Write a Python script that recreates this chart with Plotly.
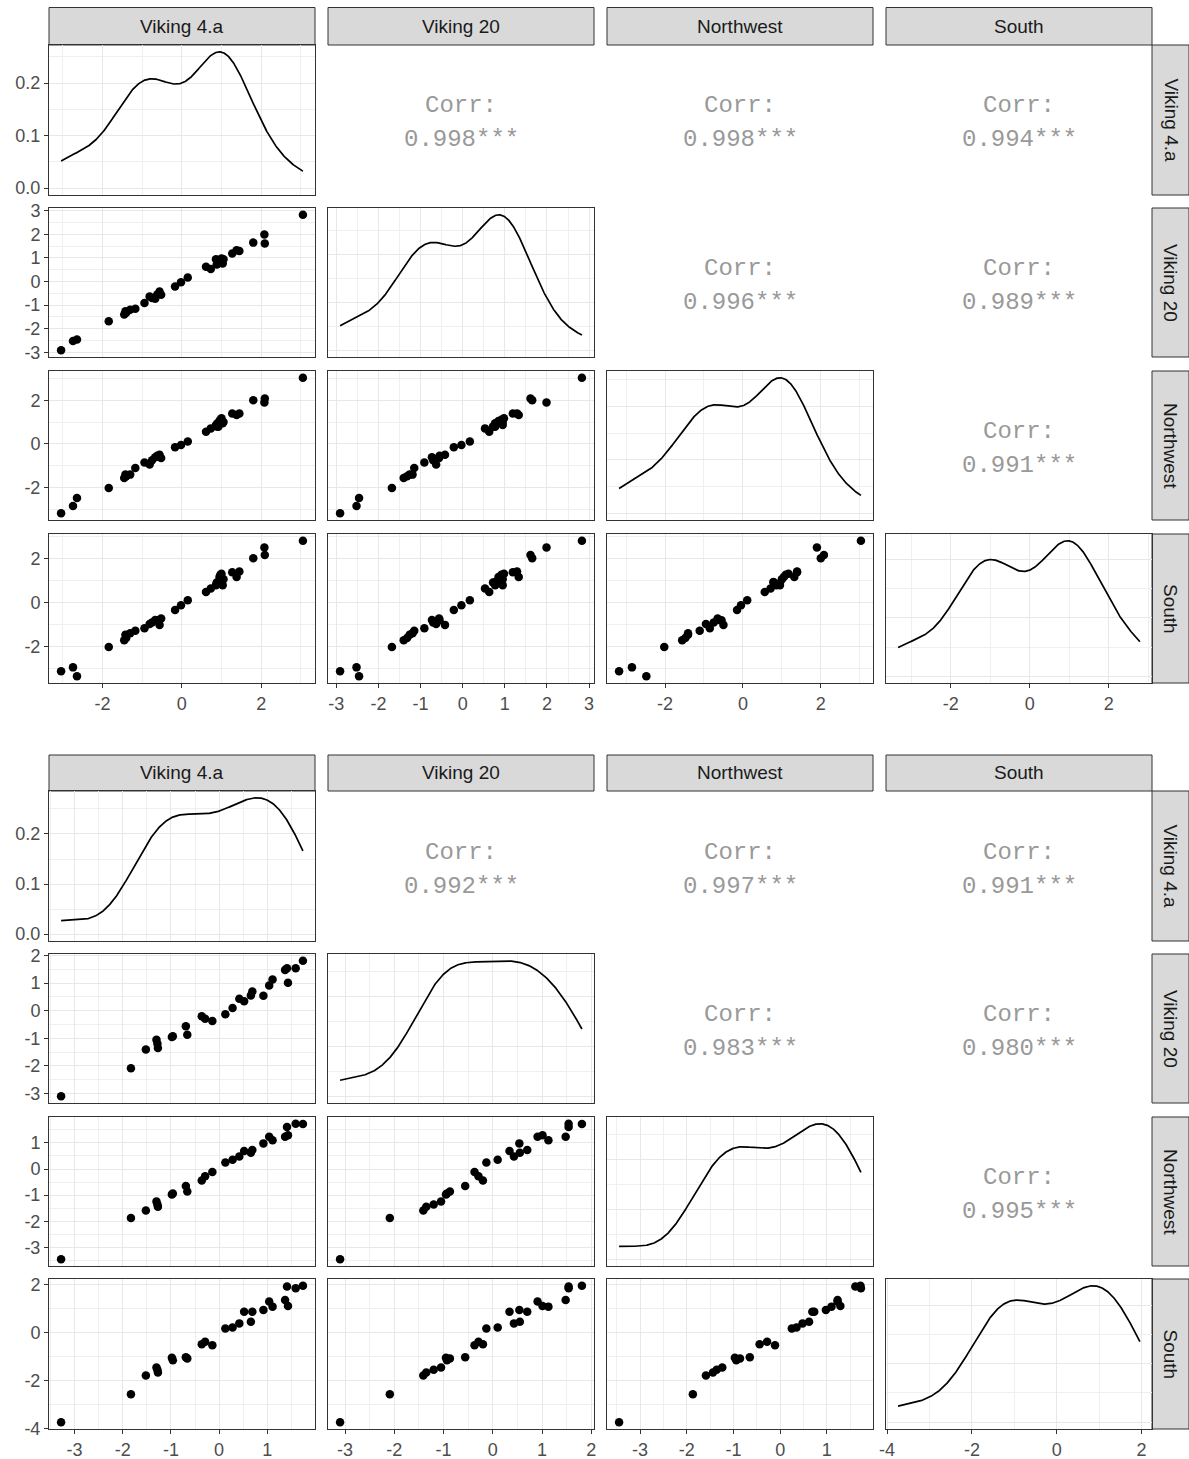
import numpy as np
import plotly.graph_objects as go

# ---------------------------------------------------------------------------
# Data: standardised anomalies for four regions, two periods
# ---------------------------------------------------------------------------
variables = ["Viking 4.a", "Viking 20", "Northwest", "South"]

top_viking4a = [-3.04, -2.74, -2.64, -1.84, -1.45, -1.42, -1.40, -1.30, -1.17, -0.94,
                -0.81, -0.75, -0.67, -0.62, -0.56, -0.52, -0.17, -0.02, 0.15, 0.61,
                0.73, 0.86, 0.88, 0.90, 0.92, 0.95, 0.97, 1.00, 1.03, 1.05,
                1.27, 1.38, 1.45, 1.80, 2.08, 2.09, 3.05]
top_viking20 = [-2.91, -2.52, -2.46, -1.68, -1.40, -1.26, -1.32, -1.19, -1.15, -0.91,
                -0.63, -0.70, -0.73, -0.55, -0.42, -0.56, -0.21, -0.03, 0.17, 0.63,
                0.53, 0.95, 0.72, 0.80, 0.77, 0.85, 0.92, 0.98, 0.77, 0.95,
                1.19, 1.33, 1.29, 1.65, 1.99, 1.61, 2.83]
top_northwest = [-3.18, -2.85, -2.48, -2.02, -1.56, -1.41, -1.48, -1.41, -1.11, -0.85,
                 -0.95, -0.75, -0.61, -0.55, -0.50, -0.65, -0.15, -0.05, 0.11, 0.56,
                 0.71, 0.86, 0.80, 0.95, 0.78, 1.05, 1.10, 1.17, 0.95, 1.00,
                 1.39, 1.32, 1.39, 2.00, 1.90, 2.08, 3.03]
top_south = [-3.10, -2.93, -3.33, -2.01, -1.70, -1.46, -1.60, -1.39, -1.28, -1.16,
             -0.97, -0.90, -0.79, -0.80, -1.01, -0.72, -0.34, -0.12, 0.10, 0.48,
             0.63, 0.78, 0.90, 0.85, 0.93, 1.15, 1.25, 1.30, 0.78, 1.05,
             1.37, 1.15, 1.40, 2.00, 2.49, 2.15, 2.79]

bottom_viking4a = [-3.28, -1.83, -1.52, -1.30, -1.28, -1.27, -0.98, -0.96, -0.69, -0.66,
                   -0.36, -0.29, -0.14, 0.13, 0.28, 0.42, 0.52, 0.66, 0.69, 0.92,
                   1.04, 1.11, 1.37, 1.43, 1.41, 1.59, 1.74]
bottom_viking20 = [-3.10, -2.09, -1.41, -1.05, -1.20, -1.35, -0.95, -0.93, -0.56, -0.87,
                   -0.20, -0.29, -0.37, -0.13, 0.10, 0.43, 0.34, 0.55, 0.70, 0.54,
                   0.91, 1.13, 1.48, 1.01, 1.54, 1.54, 1.81]
bottom_northwest = [-3.45, -1.87, -1.59, -1.24, -1.36, -1.44, -0.97, -0.94, -0.65, -0.86,
                    -0.44, -0.28, -0.11, 0.25, 0.35, 0.48, 0.69, 0.62, 0.73, 0.98,
                    1.23, 1.10, 1.23, 1.29, 1.61, 1.73, 1.72]
bottom_south = [-3.74, -2.57, -1.79, -1.45, -1.55, -1.66, -1.05, -1.15, -1.03, -1.08,
                -0.48, -0.38, -0.52, 0.18, 0.22, 0.39, 0.88, 0.46, 0.88, 0.95,
                1.30, 1.09, 1.37, 1.12, 1.93, 1.86, 1.96]

# Correlation labels, upper triangle order: (1,2) (1,3) (1,4) (2,3) (2,4) (3,4)
top_corr = ["0.998", "0.998", "0.994", "0.996", "0.989", "0.991"]
bottom_corr = ["0.992", "0.997", "0.991", "0.983", "0.980", "0.995"]

# Axis breaks for each variable
top_ticks = [[-2, 0, 2], [-3, -2, -1, 0, 1, 2, 3], [-2, 0, 2], [-2, 0, 2]]
bottom_ticks = [[-3, -2, -1, 0, 1], [-3, -2, -1, 0, 1, 2], [-3, -2, -1, 0, 1], [-4, -2, 0, 2]]
density_ticks = [0.0, 0.1, 0.2]
density_tick_labels = ["0.0", "0.1", "0.2"]

# ---------------------------------------------------------------------------
# Layout geometry (pixels)
# ---------------------------------------------------------------------------
W, H = 1189, 1459
COLS = [(49, 315), (328, 594), (607, 873), (886, 1152)]
RIGHT_STRIP = (1152, 1189)
BLOCKS = [
    dict(data=[top_viking4a, top_viking20, top_northwest, top_south],
         ticks=top_ticks, corr=top_corr, strip=(7.5, 45),
         rows=[(45, 195), (208, 357), (371, 520), (534, 683)]),
    dict(data=[bottom_viking4a, bottom_viking20, bottom_northwest, bottom_south],
         ticks=bottom_ticks, corr=bottom_corr, strip=(755, 791),
         rows=[(791, 941), (954, 1103), (1117, 1266), (1279, 1429)]),
]

BORDER = "#333333"
GRID_MAJOR = "#E8E8E8"
GRID_MINOR = "#EFEFEF"
TICK_FONT = dict(family="Liberation Sans, Arial, sans-serif", size=18, color="#4D4D4D")
STRIP_FONT = dict(family="Liberation Sans, Arial, sans-serif", size=19, color="#1A1A1A")
CORR_FONT = dict(family="Liberation Mono, Courier New, monospace", size=24, color="#999999")


def px_x(p):
    return p / W


def px_y(p):
    return 1 - p / H


def expand(values, frac=0.05):
    lo, hi = float(np.min(values)), float(np.max(values))
    pad = (hi - lo) * frac
    return [lo - pad, hi + pad]


def kde(values, n=512):
    """Gaussian kernel density with R's nrd0 bandwidth, over the data range."""
    v = np.asarray(values, dtype=float)
    sd = v.std(ddof=1)
    q75, q25 = np.percentile(v, [75, 25])
    bw = 0.9 * min(sd, (q75 - q25) / 1.34) * len(v) ** (-0.2)
    xs = np.linspace(v.min(), v.max(), n)
    dens = np.exp(-0.5 * ((xs[:, None] - v[None, :]) / bw) ** 2).sum(axis=1)
    dens /= len(v) * bw * np.sqrt(2 * np.pi)
    return xs, dens


def axis_style(domain, anchor, rng, ticks, labels, show_labels):
    step = ticks[1] - ticks[0]
    return dict(
        domain=domain, anchor=anchor, range=rng, automargin=False,
        tickmode="array", tickvals=ticks, ticktext=labels,
        showticklabels=show_labels,
        ticks="outside" if show_labels else "", ticklen=4, tickwidth=1, tickcolor=BORDER,
        ticklabelstandoff=0,
        tickfont=TICK_FONT,
        showgrid=True, gridcolor=GRID_MAJOR, gridwidth=1.4,
        minor=dict(tickmode="linear", tick0=ticks[0], dtick=step / 2,
                   showgrid=True, gridcolor=GRID_MINOR, gridwidth=0.9, ticks=""),
        zeroline=False, showline=True, mirror=True, linecolor=BORDER, linewidth=1,
        fixedrange=True,
    )


def label(text, x, y, font, yshift=0, angle=0):
    return dict(text=text, x=x, y=y, xref="paper", yref="paper", yshift=yshift,
                xanchor="center", yanchor="middle", textangle=angle,
                showarrow=False, font=font)


fig = go.Figure()
layout = {}
annotations = []
shapes = []

k = 0
for block in BLOCKS:
    data = block["data"]
    ticks = block["ticks"]
    corr_iter = iter(block["corr"])
    corr_map = {}
    for i in range(4):
        for j in range(i + 1, 4):
            corr_map[(i, j)] = next(corr_iter)

    for r, (ry0, ry1) in enumerate(block["rows"]):
        for c, (cx0, cx1) in enumerate(COLS):
            k += 1
            xname = "xaxis" if k == 1 else f"xaxis{k}"
            yname = "yaxis" if k == 1 else f"yaxis{k}"
            xref = "x" if k == 1 else f"x{k}"
            yref = "y" if k == 1 else f"y{k}"
            xdom = [px_x(cx0), px_x(cx1)]
            ydom = [px_y(ry1), px_y(ry0)]

            xv = data[c]
            xlabels = [str(t) for t in ticks[c]]
            layout[xname] = axis_style(xdom, yref, expand(xv), ticks[c], xlabels, r == 3)

            if r == c:
                xs, dens = kde(xv)
                dmax = float(dens.max())
                yrng = [-0.05 * dmax, 1.05 * dmax]
                layout[yname] = axis_style(ydom, xref, yrng, density_ticks,
                                           density_tick_labels, c == 0)
                fig.add_trace(go.Scatter(x=xs, y=dens, mode="lines",
                                         line=dict(color="black", width=1.7),
                                         xaxis=xref, yaxis=yref, hoverinfo="skip",
                                         showlegend=False))
            else:
                yv = data[r]
                ylabels = [str(t) for t in ticks[r]]
                layout[yname] = axis_style(ydom, xref, expand(yv), ticks[r], ylabels, c == 0)
                if r > c:
                    fig.add_trace(go.Scatter(x=xv, y=yv, mode="markers",
                                             marker=dict(color="black", size=8.5),
                                             xaxis=xref, yaxis=yref, showlegend=False))
                else:
                    xc = (xdom[0] + xdom[1]) / 2
                    yc = (ydom[0] + ydom[1]) / 2
                    annotations.append(label("Corr:", xc, yc, CORR_FONT, yshift=14))
                    annotations.append(label(f"{corr_map[(r, c)]}***", xc, yc, CORR_FONT,
                                             yshift=-20))

            # top strips with variable names
            if r == 0:
                sy0, sy1 = block["strip"]
                shapes.append(dict(type="rect", xref="paper", yref="paper",
                                   x0=px_x(cx0), x1=px_x(cx1), y0=px_y(sy1), y1=px_y(sy0),
                                   fillcolor="#D9D9D9", line=dict(color=BORDER, width=1),
                                   layer="below"))
                annotations.append(label(variables[c], (px_x(cx0) + px_x(cx1)) / 2,
                                         (px_y(sy0) + px_y(sy1)) / 2, STRIP_FONT))
        # right strips
        sx0, sx1 = RIGHT_STRIP
        shapes.append(dict(type="rect", xref="paper", yref="paper",
                           x0=px_x(sx0), x1=px_x(sx1), y0=px_y(ry1), y1=px_y(ry0),
                           fillcolor="#D9D9D9", line=dict(color=BORDER, width=1),
                           layer="below"))
        annotations.append(label(variables[r], (px_x(sx0) + px_x(sx1)) / 2,
                                 (px_y(ry0) + px_y(ry1)) / 2, STRIP_FONT, angle=90))

fig.update_layout(**layout)
fig.update_layout(
    template="none",
    width=W, height=H, autosize=False,
    margin=dict(l=0, r=0, t=0, b=0, pad=0),
    paper_bgcolor="white", plot_bgcolor="white",
    annotations=annotations, shapes=shapes,
    showlegend=False,
)

fig.write_html("out.html", config={"displayModeBar": False})
